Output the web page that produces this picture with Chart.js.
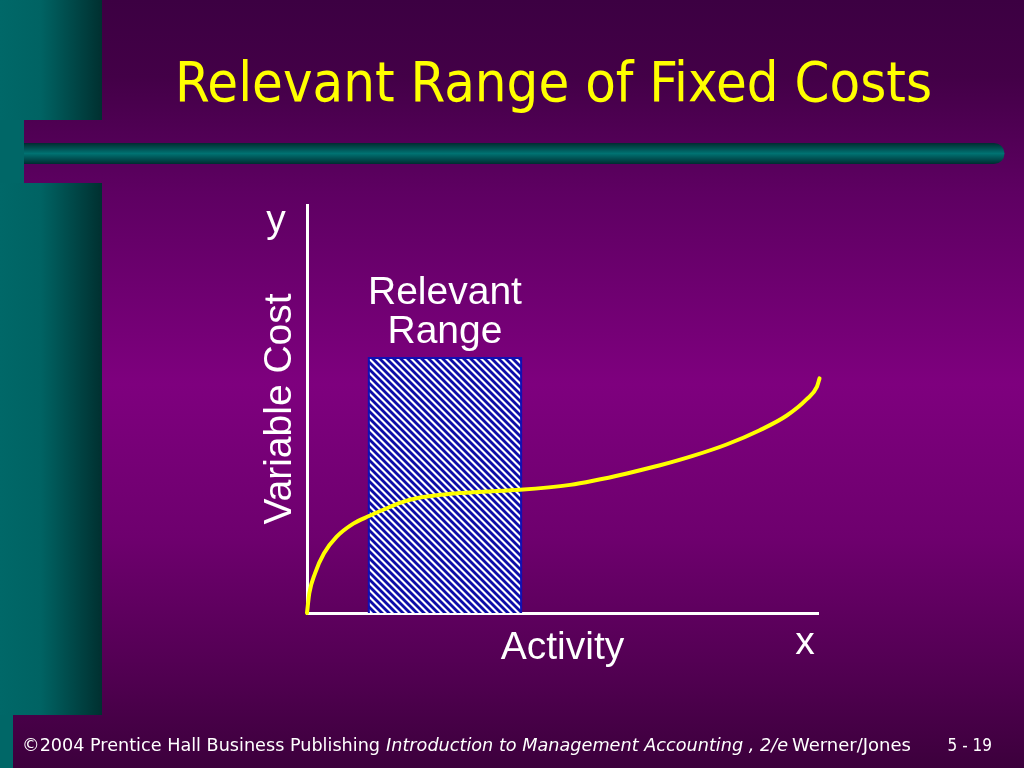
<!DOCTYPE html>
<html><head><meta charset="utf-8">
<script src="https://cdn.jsdelivr.net/npm/chart.js@4"></script>
<style>html,body{margin:0;padding:0;background:#3e003e;overflow:hidden}canvas{display:block}</style>
</head><body>
<canvas id="c" width="1024" height="768"></canvas>
<script>
// ---- texts ----
const titleText = 'Relevant Range of Fixed Costs';
const xAxisLabel = 'Activity';
const yAxisLabel = 'Variable Cost';
const xLetter = 'x';
const yLetter = 'y';
const rangeLabel = ['Relevant', 'Range'];
const footerParts = ['©2004 Prentice Hall Business Publishing', 'Introduction to Management Accounting , 2/e', 'Werner/Jones', '5 - 19'];

// ---- data (activity 0..100, cost 0..100) ----
const curveActivity = [0, 0.45, 1.57, 3.33, 5.81, 9.06, 12.0, 14.93, 18.2, 22.1, 28.0, 34.4, 41.7, 51.5, 56.0, 62.6, 69.1, 75.5, 82.1, 88.6, 93.9, 97.8, 99.8, 100.3];
const curveCost     = [0, 4.83, 9.73, 14.63, 18.7, 21.9, 23.7, 25.3, 27.0, 28.3, 29.2, 29.7, 30.2, 31.4, 32.4, 34.2, 36.2, 38.5, 41.3, 44.8, 48.4, 52.4, 55.5, 57.5];
const rangeActivity = [12.1, 41.9];
const rangeCost = 62.5;

function makeHatch(){
  const n = 7;
  const p = document.createElement('canvas');
  p.width = n; p.height = n;
  const g = p.getContext('2d');
  g.fillStyle = '#ffffff'; g.fillRect(0,0,n,n);
  g.strokeStyle = '#0c0ca8'; g.lineWidth = 2.8;
  [[-n,0,n,2*n],[-n,-n,2*n,2*n],[0,-n,2*n,n]].forEach(l=>{g.beginPath();g.moveTo(l[0],l[1]);g.lineTo(l[2],l[3]);g.stroke();});
  return g.createPattern(p,'repeat');
}

function fitText(c, txt, x, y, targetW){
  const w = c.measureText(txt).width;
  c.save(); c.translate(x,y); c.scale(targetW/w,1); c.fillText(txt,0,0); c.restore();
}

const bgPlugin = {
  id:'bg',
  beforeDraw(chart){
    const c = chart.ctx, W = chart.width, H = chart.height;
    c.save();
    const g = c.createLinearGradient(0,0,0,H);
    g.addColorStop(0,'#3c0042'); g.addColorStop(0.1,'#430047'); g.addColorStop(0.25,'#5e0062');
    g.addColorStop(0.5,'#7e007e'); g.addColorStop(0.7,'#6e006e'); g.addColorStop(0.86,'#540054'); g.addColorStop(1,'#3c003c');
    c.fillStyle = g; c.fillRect(0,0,W,H);
    const tg = c.createLinearGradient(0,0,102,0);
    tg.addColorStop(0,'#006868'); tg.addColorStop(0.4,'#006363'); tg.addColorStop(1,'#003030');
    c.fillStyle = tg;
    c.fillRect(0,0,102,120);
    c.fillRect(0,183,102,532);
    c.fillStyle = '#006767';
    c.fillRect(0,120,24,63);
    c.fillRect(0,715,13,53);
    // stripe
    const sg = c.createLinearGradient(0,143,0,164);
    sg.addColorStop(0,'#002c30'); sg.addColorStop(0.5,'#007272'); sg.addColorStop(1,'#002c30');
    c.fillStyle = sg;
    c.beginPath();
    c.moveTo(24,143); c.lineTo(994,143); c.arc(994,153.5,10.5,-Math.PI/2,Math.PI/2); c.lineTo(24,164); c.closePath(); c.fill();
    // title
    c.fillStyle = '#ffff00';
    c.font = '56px "DejaVu Sans Condensed", "DejaVu Sans", sans-serif';
    c.textBaseline = 'alphabetic'; c.textAlign = 'left';
    fitText(c, titleText, 175, 101, 757);
    // footer
    c.fillStyle = '#ffffff';
    c.font = '17px "DejaVu Sans Condensed", "DejaVu Sans", sans-serif';
    fitText(c, footerParts[0], 22, 751, 358);
    c.font = 'italic 17px "DejaVu Sans Condensed", "DejaVu Sans", sans-serif';
    fitText(c, footerParts[1], 386, 751, 402);
    c.font = '17px "DejaVu Sans Condensed", "DejaVu Sans", sans-serif';
    fitText(c, footerParts[2], 792, 751, 119);
    c.textAlign = 'right';
    c.fillText(footerParts[3], 992, 751);
    c.restore();
  },
  afterDraw(chart){
    const c = chart.ctx;
    const xs = chart.scales.x;
    c.save();
    c.fillStyle = '#ffffff';
    c.font = '39px "Liberation Sans", Arial, sans-serif';
    c.textAlign = 'center'; c.textBaseline = 'alphabetic';
    c.fillText(yLetter, 276, 232);
    c.fillText(xLetter, 805, 654);
    const cx = (xs.getPixelForValue(rangeActivity[0]) + xs.getPixelForValue(rangeActivity[1]))/2;
    c.fillText(rangeLabel[0], cx, 304);
    c.fillText(rangeLabel[1], cx, 343);
    c.restore();
  }
};

const axisFont = {family:'"Liberation Sans", Arial, sans-serif', size:39};
new Chart(document.getElementById('c'), {
  type:'line',
  data:{datasets:[
    {label:'Variable cost', data: curveActivity.map((x,i)=>({x:x, y:curveCost[i]})), borderColor:'#ffff00', borderWidth:4,
     pointRadius:0, cubicInterpolationMode:'monotone', fill:false, clip:12, order:0, borderCapStyle:'round'},
    {label:'Relevant range', data:[{x:rangeActivity[0],y:0},{x:rangeActivity[0],y:rangeCost},{x:rangeActivity[1],y:rangeCost},{x:rangeActivity[1],y:0}],
     borderColor:'#1010b4', borderWidth:2, backgroundColor: makeHatch(), fill:'origin', pointRadius:0, tension:0, order:1}
  ]},
  options:{
    responsive:false, animation:false, devicePixelRatio:1,
    layout:{padding:{left:256.6, top:205, right:206, bottom:96.6}},
    plugins:{legend:{display:false}, tooltip:{enabled:false}},
    scales:{
      x:{type:'linear', min:0, max:100, grid:{display:false, drawTicks:false, tickLength:0}, ticks:{display:false}, border:{color:'#ffffff', width:3},
         title:{display:true, text:xAxisLabel, color:'#ffffff', font:axisFont, padding:{top:11.6, bottom:0}}},
      y:{type:'linear', min:0, max:100, grid:{display:false, drawTicks:false, tickLength:0}, ticks:{display:false}, border:{color:'#ffffff', width:3},
         title:{display:true, text:yAxisLabel, color:'#ffffff', font:axisFont, padding:{top:0, bottom:3.6}}}
    }
  },
  plugins:[bgPlugin]
});
</script>
</body></html>
